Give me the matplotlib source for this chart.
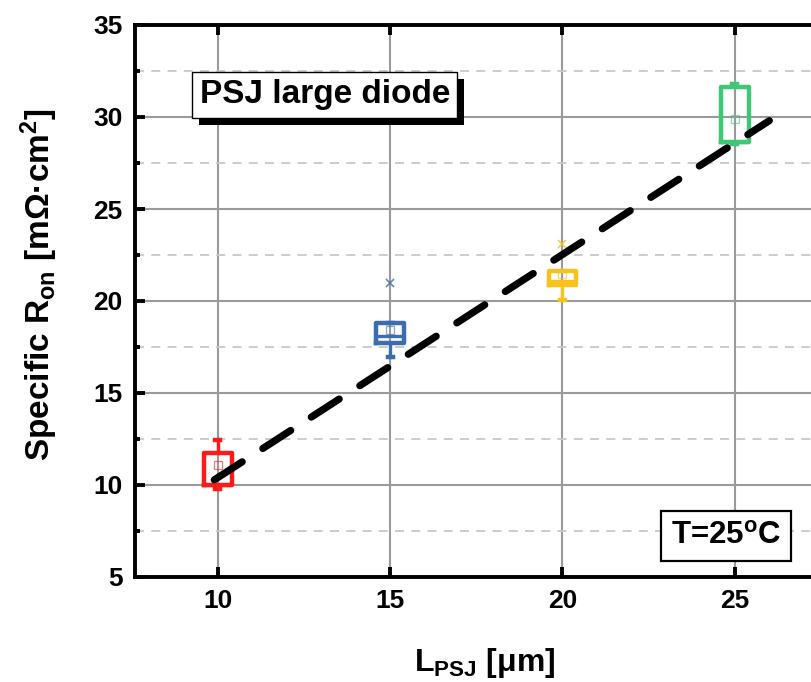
import matplotlib
matplotlib.use("Agg")
import matplotlib.pyplot as plt
from matplotlib.ticker import MultipleLocator
from matplotlib import patheffects as pe

plt.rcParams['font.family'] = ['Liberation Sans', 'DejaVu Sans']
plt.rcParams['font.weight'] = 'bold'
plt.rcParams['mathtext.fontset'] = 'custom'
plt.rcParams['mathtext.rm'] = 'Liberation Sans:bold'
plt.rcParams['mathtext.it'] = 'Liberation Sans:bold'
plt.rcParams['mathtext.bf'] = 'Liberation Sans:bold'
plt.rcParams['mathtext.sf'] = 'Liberation Sans:bold'

# Box statistics per drift length L_PSJ [um]
lengths = [10, 15, 20, 25]
q1 = [10.0, 17.72, 20.87, 28.64]
q3 = [11.72, 18.8, 21.63, 31.63]
medians = [10.0, 18.1, 21.09, 28.64]
means = [11.1, 18.42, 21.47, 29.89]
whisker_low = [9.78, 16.96, 20.05, 28.53]
whisker_high = [12.45, 18.8, 21.63, 31.8]
outliers = [[], [20.98], [23.1], []]
box_colors = ['#ff1a1a', '#3b6db0', '#f7c31a', '#3ec873']

# Linear fit of specific on-resistance vs. L_PSJ
fit_x = [9.9, 26.0]
fit_intercept = -1.725
fit_slope = 1.2125

fig = plt.figure(figsize=(8.12, 6.82), dpi=100)
ax = fig.add_axes([135 / 812, 1 - 577 / 682, (821 - 135) / 812, (577 - 25) / 682])

ax.set_xlim(7.6, 27.5)
ax.set_ylim(5, 35)

# grid
ax.xaxis.set_major_locator(MultipleLocator(5))
ax.yaxis.set_major_locator(MultipleLocator(5))
ax.yaxis.set_minor_locator(MultipleLocator(2.5))
ax.grid(True, which='major', color='#9a9a9a', linewidth=1.5, zorder=0)
ax.grid(True, which='minor', axis='y', color='#c8c8c8', linewidth=1.3,
        linestyle=(0, (5, 4)), zorder=0)
ax.set_axisbelow(True)

for i, x in enumerate(lengths):
    st = dict(med=medians[i], q1=q1[i], q3=q3[i], whislo=whisker_low[i],
              whishi=whisker_high[i], mean=means[i], fliers=outliers[i])
    c = box_colors[i]
    ax.bxp([st], positions=[x], widths=0.8, showmeans=True, capwidths=0.15,
           boxprops=dict(color=c, linewidth=3.2),
           whiskerprops=dict(color=c, linewidth=2.4),
           capprops=dict(color=c, linewidth=3.2),
           medianprops=dict(color=c, linewidth=2.4),
           meanprops=dict(marker='s', markersize=6, markerfacecolor='none',
                          markeredgecolor=c, markeredgewidth=0.9, alpha=0.6),
           flierprops=dict(marker='x', markersize=6, markeredgecolor=c,
                           markeredgewidth=1.2, alpha=0.8),
           manage_ticks=False, zorder=3)

fit_y = [fit_intercept + fit_slope * v for v in fit_x]
ax.plot(fit_x, fit_y, color='black', linewidth=5.2, dashes=(4.6, 3.4),
        dash_capstyle='round', zorder=4)

# axes frame and ticks
for side in ['left', 'bottom', 'top']:
    ax.spines[side].set_linewidth(2.8)
ax.spines['right'].set_visible(False)
ax.tick_params(axis='both', which='major', direction='in', width=2.8, length=7.5,
               labelsize=19, pad=9)
ax.tick_params(axis='both', which='minor', direction='in', width=2.8, length=3.5)
ax.tick_params(axis='x', top=True, bottom=True)
ax.tick_params(axis='y', which='both', left=True, right=False)
ax.tick_params(axis='x', which='minor', bottom=False, top=False)
for lab in ax.get_xticklabels() + ax.get_yticklabels():
    lab.set_fontweight('bold')

ax.set_xlabel(r'L$_{\rm PSJ}$ [$\mu$m]', fontsize=23, fontweight='bold')
ax.xaxis.set_label_coords(0.51, -0.125)
ax.set_ylabel('Specific R$_{\\rm on}$ [m\u03a9\u00b7cm$^{2}$]', fontsize=24,
              fontweight='bold')
ax.yaxis.set_label_coords(-0.11, 0.53)

t1 = ax.text(13.11, 31.2, 'PSJ large diode', fontsize=24, fontweight='bold',
             ha='center', va='center', zorder=6,
             bbox=dict(boxstyle='square,pad=0.22', facecolor='white',
                       edgecolor='black', linewidth=1.0))
t1.get_bbox_patch().set_path_effects([
    pe.SimplePatchShadow(offset=(5, -5), shadow_rgbFace='black', alpha=1.0),
    pe.Normal()])

ax.text(24.75, 7.25, r'T=25$^{\rm o}$C', fontsize=22.5, fontweight='bold',
        ha='center', va='center', zorder=6,
        bbox=dict(boxstyle='square,pad=0.32', facecolor='white',
                  edgecolor='black', linewidth=1.6))

fig.savefig('out.png', dpi=100)
